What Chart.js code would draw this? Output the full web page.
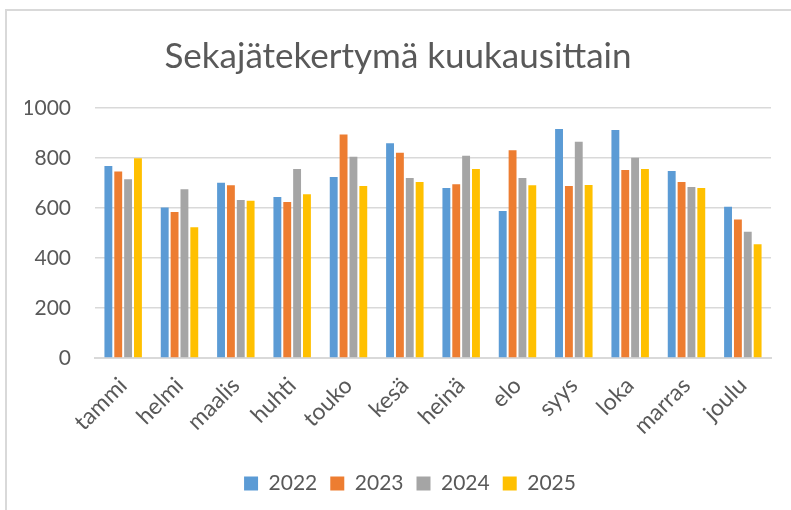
<!DOCTYPE html>
<html>
<head>
<meta charset="utf-8">
<script src="https://cdn.jsdelivr.net/npm/chart.js@4"></script>
<style>
    html, body { margin: 0; padding: 0; background: #ffffff; overflow: hidden; }
    #frame {
        position: absolute; left: 5px; top: 9px; width: 800px; height: 520px;
        border: 2px solid #D9D9D9; box-sizing: border-box;
    }
    #Chart1 { position: absolute; left: 0; top: 0; }
</style>
</head>
<body>
<div id="frame"></div>
<canvas id="Chart1" width="791" height="510"></canvas>
<script>
// Months
const months = ["tammi", "helmi", "maalis", "huhti", "touko", "kesä", "heinä", "elo", "syys", "loka", "marras", "joulu"];

// Values per year
const v2022 = [768, 602, 701, 644, 724, 859, 680, 588, 916, 912, 748, 605];
const v2023 = [746, 584, 691, 624, 894, 821, 695, 831, 688, 752, 704, 554];
const v2024 = [715, 675, 632, 756, 805, 720, 809, 720, 865, 801, 684, 505];
const v2025 = [799, 523, 629, 655, 688, 704, 756, 691, 692, 756, 680, 455];

const yTicks = [0, 200, 400, 600, 800, 1000];

const textColor = "#595959";
const gridColor = "#D9D9D9";
const fontFamily = "Lato, 'Open Sans', sans-serif";

const make_set = function (label, data, color) {
    return {
        label: label,
        data: data,
        backgroundColor: color,
        borderWidth: 0,
        barPercentage: 0.8,
        categoryPercentage: 0.7,
    };
};

// nudge the legend a bit to the right, like the original
const legendShift = {
    id: "legendShift",
    afterLayout(chart) {
        chart.legend.left += 12;
        chart.legend.right += 12;
    }
};

new Chart(document.getElementById("Chart1").getContext("2d"), {
    type: "bar",
    data: {
        labels: months,
        datasets: [
            make_set("2022", v2022, "#5B9BD5"),
            make_set("2023", v2023, "#ED7D31"),
            make_set("2024", v2024, "#A5A5A5"),
            make_set("2025", v2025, "#FFC000"),
        ]
    },
    plugins: [legendShift],
    options: {
        responsive: false,
        animation: false,
        layout: {
            padding: { left: 25, right: 20, top: 0, bottom: 6 }
        },
        plugins: {
            title: {
                display: true,
                text: "Sekajätekertymä kuukausittain",
                color: textColor,
                font: { family: fontFamily, size: 35, weight: "normal" },
                padding: { top: 36, bottom: 30 },
            },
            legend: {
                position: "bottom",
                labels: {
                    color: textColor,
                    font: { family: fontFamily, size: 21 },
                    boxWidth: 14,
                    boxHeight: 14,
                    padding: 13,
                },
            },
            tooltip: { enabled: false },
        },
        scales: {
            x: {
                grid: { display: false },
                border: { display: true, color: gridColor, width: 2 },
                ticks: {
                    color: textColor,
                    font: { family: fontFamily, size: 23 },
                    minRotation: 45,
                    maxRotation: 45,
                    padding: 6,
                },
                afterFit: (axis) => {
                    axis.paddingLeft = 0;
                    axis.paddingRight = 0;
                    axis.height = 102;
                },
            },
            y: {
                min: 0,
                max: 1000,
                afterBuildTicks: (axis) => { axis.ticks = yTicks.map(v => ({ value: v })); },
                afterFit: (axis) => { axis.width = 70; },
                grid: { color: gridColor, lineWidth: 1.5, drawTicks: false },
                border: { display: false },
                ticks: {
                    color: textColor,
                    font: { family: fontFamily, size: 21 },
                    padding: 24,
                    callback: (v) => String(v),
                },
            },
        },
    }
});
</script>
</body>
</html>
